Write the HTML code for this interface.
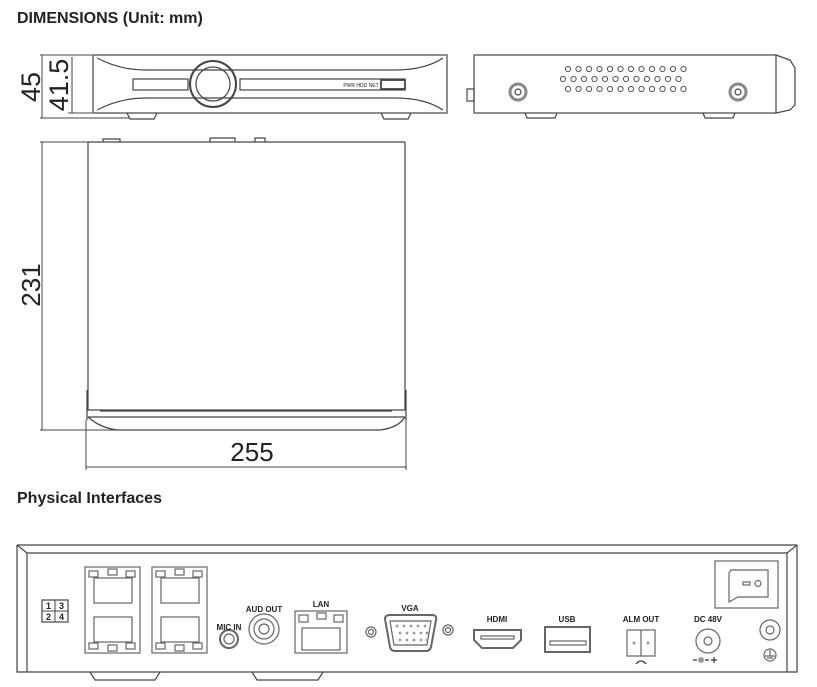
<!DOCTYPE html>
<html><head><meta charset="utf-8"><style>
html,body{margin:0;padding:0;background:#fff;}
svg{display:block;}
text{font-family:"Liberation Sans",sans-serif;fill:#222;}
</style></head><body>
<svg width="817" height="687" viewBox="0 0 817 687" xmlns="http://www.w3.org/2000/svg">
<g fill="none" stroke="#444" stroke-width="1.2">
<!-- FRONT VIEW -->
<rect x="93" y="55" width="354" height="58"/>
<path d="M97 58 Q120 70 145 70 L395 70 Q425 70 443 58"/>
<path d="M97 110 Q120 98 145 98 L395 98 Q425 98 443 110"/>
<rect x="133" y="79" width="55" height="11"/>
<rect x="240" y="79" width="165" height="11"/>
<circle cx="213" cy="84" r="23" stroke-width="2"/>
<circle cx="213" cy="84" r="17"/>
<rect x="381" y="80" width="24" height="9" stroke-width="1.8"/>
<path d="M127 113 L130 119 L154 119 L157 113 M381 113 L384 119 L408 119 L411 113"/>
<!-- dims 45 / 41.5 -->
<path d="M40 55 L92 55 M40 118 L130 118 M42 55 L42 118 M72 57 L72 113 M68 113 L92 113" stroke-width="1"/>
<!-- SIDE VIEW -->
<rect x="474" y="55" width="302" height="58"/>
<path d="M776 55 L790 60 L795 68 L795 105 L790 110 L776 113"/>
<rect x="467" y="89" width="7" height="12"/>
<path d="M525 113 L527 118 L555 118 L557 113 M703 113 L705 118 L733 118 L735 113"/>
<circle cx="518" cy="92" r="8" stroke="#888" stroke-width="3"/>
<circle cx="518" cy="92" r="3"/>
<circle cx="738" cy="92" r="8" stroke="#888" stroke-width="3"/>
<circle cx="738" cy="92" r="3"/>
</g>
<g fill="none" stroke="#555" stroke-width="1">
<circle cx="568" cy="69" r="2.6"/><circle cx="578.5" cy="69" r="2.6"/><circle cx="589" cy="69" r="2.6"/><circle cx="599.5" cy="69" r="2.6"/><circle cx="610" cy="69" r="2.6"/><circle cx="620.5" cy="69" r="2.6"/><circle cx="631" cy="69" r="2.6"/><circle cx="641.5" cy="69" r="2.6"/><circle cx="652" cy="69" r="2.6"/><circle cx="662.5" cy="69" r="2.6"/><circle cx="673" cy="69" r="2.6"/><circle cx="683.5" cy="69" r="2.6"/>
<circle cx="563" cy="79" r="2.6"/><circle cx="573.5" cy="79" r="2.6"/><circle cx="584" cy="79" r="2.6"/><circle cx="594.5" cy="79" r="2.6"/><circle cx="605" cy="79" r="2.6"/><circle cx="615.5" cy="79" r="2.6"/><circle cx="626" cy="79" r="2.6"/><circle cx="636.5" cy="79" r="2.6"/><circle cx="647" cy="79" r="2.6"/><circle cx="657.5" cy="79" r="2.6"/><circle cx="668" cy="79" r="2.6"/><circle cx="678.5" cy="79" r="2.6"/>
<circle cx="568" cy="89" r="2.6"/><circle cx="578.5" cy="89" r="2.6"/><circle cx="589" cy="89" r="2.6"/><circle cx="599.5" cy="89" r="2.6"/><circle cx="610" cy="89" r="2.6"/><circle cx="620.5" cy="89" r="2.6"/><circle cx="631" cy="89" r="2.6"/><circle cx="641.5" cy="89" r="2.6"/><circle cx="652" cy="89" r="2.6"/><circle cx="662.5" cy="89" r="2.6"/><circle cx="673" cy="89" r="2.6"/><circle cx="683.5" cy="89" r="2.6"/>
</g>
<g fill="none" stroke="#444" stroke-width="1.2">
<!-- TOP VIEW -->
<path d="M88 142 L88 410 M405 142 L405 410 M88 142 L405 142"/>
<path d="M103 142 L103 139 L120 139 L120 142 M210 142 L210 138 L235 138 L235 142 M255 142 L255 138 L265 138 L265 142"/>
<path d="M87 410 L406 410 M100 411 L392 411 M88 417 L405 417 M88 417 Q100 428 118 430 L380 430 Q398 428 405 417"/>
<path d="M87 390 L87 420 M406 390 L406 420"/>
<path d="M40 142 L88 142 M40 430 L270 430 M42 142 L42 430 M86 420 L86 470 M406 420 L406 470 M86 467 L406 467" stroke-width="1"/>
<!-- BACK PANEL -->
<path d="M17 545 L17 672 L797 672 L797 545 M17 545 L797 545 M27 553 L787 553 M17 545 L27 553 L27 672 M797 545 L787 553 L787 672"/>
<path d="M90 672 L95 680 L155 680 L160 672 M252 672 L257 680 L318 680 L323 672"/>
<!-- 1234 -->
<rect x="42" y="600" width="26" height="22"/>
<path d="M55 600 L55 622 M42 611 L68 611" stroke-width="1"/>
</g>
<g font-size="9" font-weight="bold" text-anchor="middle">
<text x="48.5" y="609">1</text><text x="61.5" y="609">3</text>
<text x="48.5" y="620">2</text><text x="61.5" y="620">4</text>
</g>
<g fill="none" stroke="#666" stroke-width="1.2">
<!-- RJ45 blocks -->
<rect x="85" y="567" width="55" height="86"/>
<rect x="94" y="578" width="38" height="25"/><rect x="94" y="617" width="38" height="25"/>
<rect x="89" y="571" width="9" height="6"/><rect x="108" y="569" width="9" height="6"/><rect x="126" y="571" width="9" height="6"/>
<rect x="89" y="643" width="9" height="6"/><rect x="108" y="645" width="9" height="6"/><rect x="126" y="643" width="9" height="6"/>
<rect x="152" y="567" width="55" height="86"/>
<rect x="161" y="578" width="38" height="25"/><rect x="161" y="617" width="38" height="25"/>
<rect x="156" y="571" width="9" height="6"/><rect x="175" y="569" width="9" height="6"/><rect x="193" y="571" width="9" height="6"/>
<rect x="156" y="643" width="9" height="6"/><rect x="175" y="645" width="9" height="6"/><rect x="193" y="643" width="9" height="6"/>
<!-- MIC / AUD -->
<circle cx="229" cy="639" r="9" stroke-width="2"/><circle cx="229" cy="639" r="5"/>
<circle cx="264" cy="629" r="15"/><circle cx="264" cy="629" r="10"/><circle cx="264" cy="629" r="5"/>
<!-- LAN -->
<rect x="295" y="611" width="52" height="42"/>
<rect x="302" y="628" width="38" height="22"/>
<rect x="299" y="615" width="9" height="7"/><rect x="317" y="613" width="9" height="6"/><rect x="334" y="615" width="9" height="7"/>
<!-- VGA -->
<circle cx="371" cy="632" r="5"/><circle cx="371" cy="632" r="2.5"/>
<circle cx="448" cy="630" r="5"/><circle cx="448" cy="630" r="2.5"/>
<path d="M385 619 Q385 615 390 615 L432 615 Q437 615 436 620 L431 647 Q430 651 426 651 L395 651 Q391 651 390 647 Z" stroke-width="2"/>
<path d="M390 621 L431 621 L427 645 L394 645 Z"/>
<!-- HDMI -->
<path d="M474 630 L521 630 L521 640 L513 648 L482 648 L474 640 Z" stroke-width="2"/>
<rect x="481" y="636" width="33" height="3"/>
<!-- USB -->
<rect x="545" y="627" width="45" height="25" stroke-width="2"/>
<rect x="550" y="641" width="36" height="4"/>
<!-- ALM -->
<rect x="627" y="630" width="28" height="26"/>
<path d="M641 630 L641 656"/>
<!-- DC -->
<circle cx="708" cy="641" r="12"/><circle cx="708" cy="641" r="4"/>
<!-- switch -->
<rect x="715" y="561" width="63" height="47"/>
<path d="M731 570 L768 570 L768 597 L738 597 L729 602 L729 573 Z"/>
<rect x="743" y="582" width="7" height="3"/><circle cx="758" cy="583.5" r="3"/>
<!-- ground -->
<circle cx="770" cy="630" r="10"/><circle cx="770" cy="630" r="4"/>
<circle cx="770" cy="655" r="6"/>
<path d="M770 650 L770 656 M765 656 L775 656 M767 658 L773 658"/>
</g>
<g fill="#999">
<circle cx="397" cy="626" r="1.4"/><circle cx="404" cy="626" r="1.4"/><circle cx="411" cy="626" r="1.4"/><circle cx="418" cy="626" r="1.4"/><circle cx="425" cy="626" r="1.4"/>
<circle cx="400" cy="633" r="1.4"/><circle cx="407" cy="633" r="1.4"/><circle cx="414" cy="633" r="1.4"/><circle cx="421" cy="633" r="1.4"/><circle cx="427" cy="633" r="1.4"/>
<circle cx="400" cy="640" r="1.4"/><circle cx="407" cy="640" r="1.4"/><circle cx="414" cy="640" r="1.4"/><circle cx="421" cy="640" r="1.4"/><circle cx="427" cy="640" r="1.4"/>
<circle cx="634" cy="643" r="1.5"/><circle cx="648" cy="643" r="1.5"/>
<circle cx="701" cy="660" r="3"/>
</g>
<path d="M693 660 L697 660 M705 660 L709 660 M711 660 L717 660 M714 657 L714 663 M636 664 Q641 658 646 664" stroke="#333" stroke-width="1.2" fill="none"/>
<g font-size="8" font-weight="bold" text-anchor="middle" fill="#333">
<text x="229" y="630">MIC IN</text>
<text x="264" y="612">AUD OUT</text>
<text x="321" y="607">LAN</text>
<text x="410" y="611">VGA</text>
<text x="497" y="622">HDMI</text>
<text x="567" y="622">USB</text>
<text x="641" y="622">ALM OUT</text>
<text x="708" y="622">DC 48V</text>
</g>
<text x="17" y="23" font-size="16" font-weight="bold">DIMENSIONS  (Unit: mm)</text>
<text x="17" y="503" font-size="16" font-weight="bold">Physical Interfaces</text>
<text x="252" y="461" font-size="26" text-anchor="middle" fill="#111">255</text>
<text transform="translate(40,285) rotate(-90)" font-size="26" text-anchor="middle" fill="#111">231</text>
<text transform="translate(40,87) rotate(-90)" font-size="27" text-anchor="middle" fill="#111">45</text>
<text transform="translate(68,85) rotate(-90)" font-size="27" text-anchor="middle" fill="#111">41.5</text>
<text x="361" y="87" font-size="5" fill="#666" text-anchor="middle">PWR HDD NET</text>
</svg>
</body></html>
